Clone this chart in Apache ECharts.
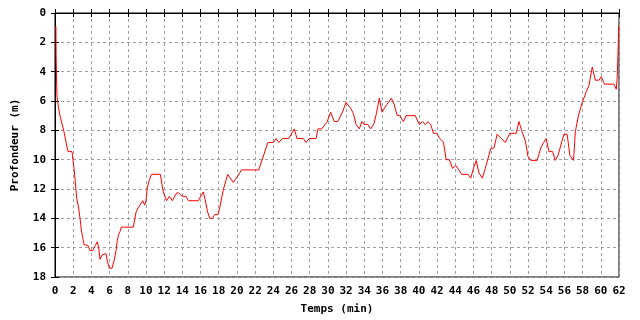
<!DOCTYPE html>
<html><head><meta charset="utf-8">
<script src="https://cdn.jsdelivr.net/npm/echarts@6/dist/echarts.min.js"></script>
<style>html,body{margin:0;padding:0;background:#fff}#c{width:640px;height:320px}</style>
</head><body><div id="c"></div>
<script>
var times = [0.10,0.12,0.17,0.22,0.35,0.55,0.77,0.99,1.21,1.43,1.87,2.09,2.23,2.38,2.6,2.75,2.9,3.04,3.19,3.63,3.85,4.14,4.43,4.65,4.8,4.95,5.17,5.31,5.61,5.75,5.97,6.27,6.49,6.71,6.85,7.0,7.15,7.29,8.61,8.76,8.9,9.12,9.34,9.64,9.86,10.0,10.15,10.37,10.6,11.58,11.9,12.27,12.57,12.9,13.37,13.6,14.0,14.4,14.66,15.75,16.3,16.5,16.75,17.0,17.3,17.55,17.9,18.1,18.5,18.98,19.6,20.1,20.5,22.4,23.4,24.0,24.3,24.6,25.0,25.7,26.3,26.6,27.3,27.6,27.95,28.7,28.9,29.3,29.9,30.3,30.7,31.1,31.6,32.0,32.5,32.8,33.1,33.45,33.75,33.97,34.4,34.7,35.07,35.36,35.65,35.95,36.46,36.97,37.27,37.6,37.9,38.3,38.6,39.6,40.05,40.4,40.7,41.0,41.3,41.6,41.95,42.3,42.7,43.0,43.35,43.7,44.05,44.3,44.7,45.4,45.7,46.0,46.3,46.6,46.97,47.3,47.9,48.26,48.6,49.5,50.0,50.7,51.0,51.4,51.7,52.0,52.3,53.0,53.4,53.7,54.0,54.3,54.7,55.0,55.3,55.7,55.95,56.3,56.6,57.0,57.2,57.5,57.9,58.4,58.7,59.06,59.4,59.8,60.05,60.4,61.45,61.7,61.8,61.9,61.96];
var depths = [0.9,2.7,4.5,5.7,6.3,7.0,7.55,8.1,8.8,9.45,9.45,10.6,11.5,12.6,13.3,14.0,14.8,15.3,15.8,15.85,16.2,16.2,15.85,15.6,16.0,16.8,16.5,16.4,16.4,16.9,17.4,17.4,16.9,16.2,15.5,15.1,14.9,14.6,14.6,14.1,13.6,13.3,13.1,12.8,13.1,12.8,11.9,11.4,11.0,11.0,12.2,12.8,12.5,12.8,12.27,12.27,12.5,12.5,12.8,12.8,12.2,12.7,13.5,14.0,14.0,13.75,13.75,13.3,12.05,11.0,11.55,11.1,10.7,10.7,8.83,8.83,8.56,8.83,8.56,8.56,7.9,8.56,8.56,8.83,8.56,8.56,7.9,7.9,7.44,6.76,7.4,7.4,6.76,6.09,6.5,6.85,7.6,7.9,7.4,7.6,7.6,7.9,7.55,6.76,5.82,6.76,6.25,5.82,6.2,6.97,7.0,7.4,7.0,7.0,7.6,7.4,7.6,7.4,7.6,8.2,8.2,8.56,8.8,10.0,10.0,10.6,10.4,10.6,11.0,11.0,11.26,10.6,10.05,10.9,11.26,10.6,9.24,9.2,8.27,8.83,8.2,8.2,7.4,8.2,8.7,9.8,10.05,10.05,9.2,8.85,8.56,9.45,9.45,10.05,9.7,8.8,8.27,8.27,9.7,10.05,8.1,7.1,6.2,5.37,4.93,3.69,4.58,4.58,4.35,4.85,4.85,5.2,4.4,2.6,0.88];
var xName = 'Temps (min)';
var yName = 'Profondeur (m)';

var pts = times.map(function(t, i){ return [t, depths[i]]; });
var font = 'DejaVu Sans Mono';
var gridLine = {show:true, lineStyle:{color:'#a0a0a0', type:[3,3], width:1}};
var chart = echarts.init(document.getElementById('c'), null, {renderer:'canvas'});
chart.setOption({
  animation:false,
  backgroundColor:'#fff',
  grid:{left:55, right:21, top:13, bottom:40, show:true, borderColor:'#000', borderWidth:1},
  xAxis:[{
    type:'value', min:0, max:62, interval:2, position:'bottom',
    name:xName, nameLocation:'middle', nameGap:27,
    nameTextStyle:{fontFamily:font, fontWeight:'bold', fontSize:11, color:'#000'},
    axisLine:{show:true, lineStyle:{color:'#000', width:1}},
    axisTick:{show:true, inside:true, length:4, lineStyle:{color:'#000'}},
    axisLabel:{fontFamily:font, fontWeight:'bold', fontSize:11, color:'#000', margin:9},
    splitLine:gridLine
  },{
    type:'value', min:0, max:62, interval:2, position:'top',
    axisLine:{show:true, lineStyle:{color:'#000'}},
    axisTick:{show:true, inside:true, length:4, lineStyle:{color:'#000'}},
    axisLabel:{show:false}, splitLine:{show:false}
  }],
  yAxis:[{
    type:'value', min:0, max:18, interval:2, inverse:true, position:'left',
    name:yName, nameLocation:'middle', nameGap:34, nameRotate:90,
    nameTextStyle:{fontFamily:font, fontWeight:'bold', fontSize:11, color:'#000'},
    axisLine:{show:true, lineStyle:{color:'#000', width:1}},
    axisTick:{show:true, inside:true, length:4, lineStyle:{color:'#000'}},
    axisLabel:{fontFamily:font, fontWeight:'bold', fontSize:11, color:'#000', margin:9},
    splitLine:gridLine
  },{
    type:'value', min:0, max:18, interval:2, inverse:true, position:'right',
    axisLine:{show:true, lineStyle:{color:'#000'}},
    axisTick:{show:true, inside:true, length:4, lineStyle:{color:'#000'}},
    axisLabel:{show:false}, splitLine:{show:false}
  }],
  series:[{
    type:'line', xAxisIndex:0, yAxisIndex:0, data:pts,
    showSymbol:false, symbol:'none',
    lineStyle:{color:'#ff0000', width:1},
    itemStyle:{color:'#ff0000'}
  }]
});
</script></body></html>
